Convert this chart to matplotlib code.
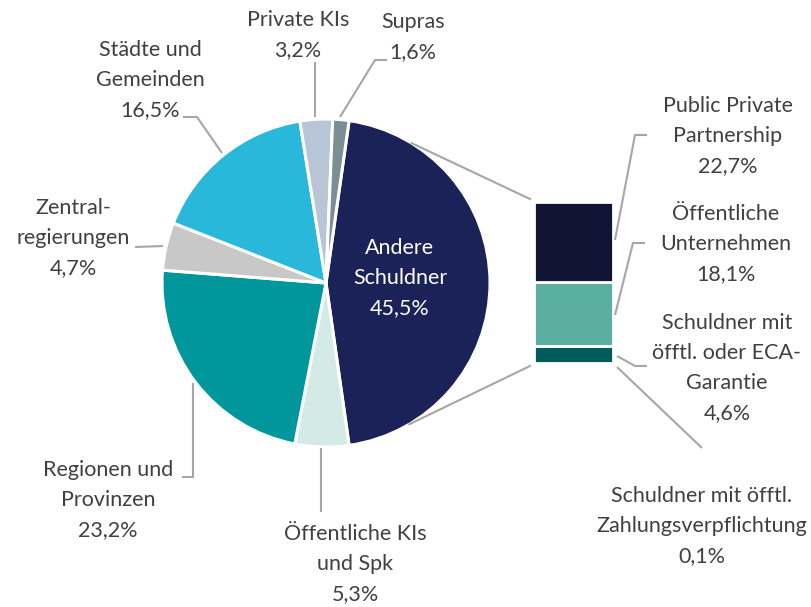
import numpy as np
import matplotlib.pyplot as plt

plt.rcParams['font.family'] = ['Lato', 'DejaVu Sans']

# pie data (clockwise, starting with the exploded slice)
pie_labels = ["Andere\nSchuldner", "Öffentliche KIs\nund Spk", "Regionen und\nProvinzen",
              "Zentral-\nregierungen", "Städte und\nGemeinden", "Private KIs", "Supras"]
pie_values = [45.5, 5.3, 23.2, 4.7, 16.5, 3.2, 1.6]
pie_colors = ["#1b2257", "#d3eae6", "#00979c", "#c8c8c8", "#29b7da", "#b8c5d6", "#7b8d95"]

# breakdown of "Andere Schuldner" (top to bottom)
bar_labels = ["Public Private\nPartnership", "Öffentliche\nUnternehmen",
              "Schuldner mit\nöfftl. oder ECA-\nGarantie",
              "Schuldner mit öfftl.\nZahlungsverpflichtung"]
bar_values = [22.7, 18.1, 4.6, 0.1]
bar_colors = ["#111535", "#5bafa0", "#005b5b", "#0a3d3d"]

W, H = 812, 607
fig = plt.figure(figsize=(W / 100, H / 100), dpi=100)
ax = fig.add_axes([0, 0, 1, 1])

def Y(py):
    return H - py

cx, cy, r = 326, Y(283), 164
start = pie_values[0] / 2 * 3.6
ax.pie(pie_values, colors=pie_colors, startangle=start, counterclock=False,
       center=(cx, cy), radius=r,
       wedgeprops=dict(edgecolor="white", linewidth=2.2))

# stacked bar
scale = (363 - 202) / sum(bar_values)
bx, bw = 573.5, 79
bottom = Y(363)
for v, c in zip(bar_values[::-1], bar_colors[::-1]):
    ax.bar(bx, v * scale, width=bw, bottom=bottom, color=c,
           edgecolor="white", linewidth=2)
    bottom += v * scale

txt = "#404040"
lc = "#a6a6a6"
fs = 15.5
ls = 1.62

def label(x, y, s, color=txt):
    ax.text(x, Y(y), s, ha="center", va="center", fontsize=fs, color=color,
            linespacing=ls)

def leader(pts):
    xs = [p[0] for p in pts]
    ys = [Y(p[1]) for p in pts]
    ax.plot(xs, ys, color=lc, lw=1.5, solid_capstyle="butt")

# pie labels
label(400, 278, pie_labels[0] + "\n45,5%", color="white")
label(355, 564, pie_labels[1] + "\n5,3%")
label(108, 500, pie_labels[2] + "\n23,2%")
label(73, 238, pie_labels[3] + "\n4,7%")
label(150, 80, pie_labels[4] + "\n16,5%")
label(298, 35, pie_labels[5] + "\n3,2%")
label(413, 37, pie_labels[6] + "\n1,6%")

leader([(321, 448), (321, 512)])
leader([(182, 477), (193, 477), (193, 383)])
leader([(135, 247), (163, 246)])
leader([(183, 117), (197, 117), (222, 153)])
leader([(315, 62), (315, 117)])
leader([(387, 60), (375, 60), (340, 117)])

# bar labels
label(728, 136, bar_labels[0] + "\n22,7%")
label(726, 244, bar_labels[1] + "\n18,1%")
label(727, 368, bar_labels[2] + "\n4,6%")
label(702, 526, bar_labels[3] + "\n0,1%")

leader([(647, 135), (635, 135), (615, 240)])
leader([(645, 243), (633, 243), (615, 315)])
leader([(647, 366), (635, 366), (617, 356)])
leader([(702, 448), (617, 367)])

# connectors from pie to bar
for ang, py in [(58.5, 199), (-59.5, 366)]:
    a = np.deg2rad(ang)
    ax.plot([cx + r * np.cos(a), 530], [cy + r * np.sin(a), Y(py)],
            color=lc, lw=1.5)

ax.set_xlim(0, W)
ax.set_ylim(0, H)
ax.set_aspect("equal")
ax.axis("off")

fig.savefig("out.png", dpi=100, facecolor="white")
